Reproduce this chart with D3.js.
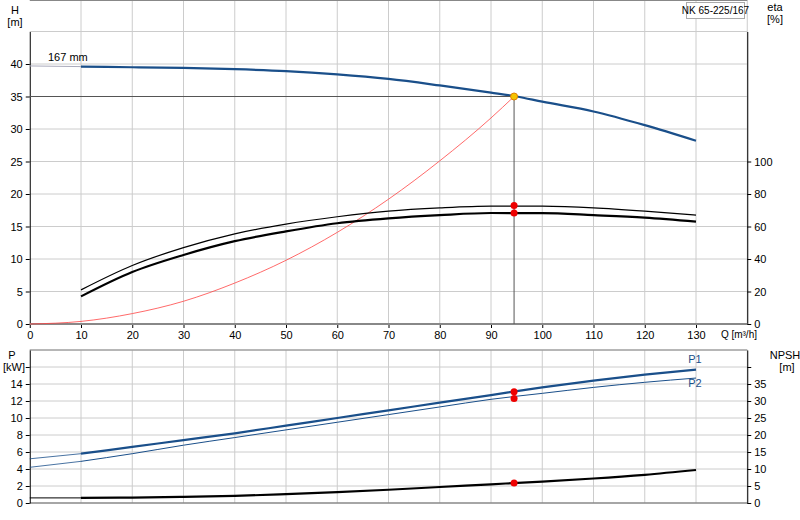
<!DOCTYPE html>
<html><head><meta charset="utf-8">
<script src="https://cdn.jsdelivr.net/npm/d3@7"></script>
<style>body{margin:0;background:#fff}text{font-family:Arial,"Liberation Sans",sans-serif;font-size:11px}</style>
</head><body><svg id="c" width="800" height="520"></svg>
<script>
// data
const qHead = [0,10,20,30,40,50,60,70,80,90,95,100,110,120,130];
const head  = [39.7,39.6,39.5,39.4,39.2,38.9,38.4,37.7,36.7,35.6,35,34.2,32.7,30.6,28.2];
const qEta = [10,20,30,40,50,60,70,80,90,100,110,120,130];
const eta1 = [17,32,42.5,51,57,62,65,67,68.3,68.2,67,65.5,63];
const eta2 = [21,36,47,55.5,61.5,66,69.5,71.5,72.6,72.5,71.5,69.5,67];
const qSys = [0,10,20,30,40,50,60,70,80,90,94.5];
const sysH = [0,0.4,1.6,3.5,6.3,9.8,14.1,19.2,25.1,31.7,35];
const qPow = [10,20,30,40,50,60,70,80,90,100,110,120,130];
const p1 = [5.8,6.6,7.4,8.2,9.1,10.0,10.9,11.8,12.7,13.6,14.4,15.1,15.7];
const p2 = [4.9,5.8,6.8,7.7,8.6,9.5,10.4,11.3,12.2,12.9,13.6,14.2,14.7];
const npsh = [1.5,1.6,1.8,2.1,2.6,3.2,3.9,4.7,5.5,6.3,7.2,8.3,9.7];
const duty = {q:94.5, h:35, eta1:73, eta2:68.3, p1:13.1, p2:12.3, npsh:5.9};
const qTicks = [0,10,20,30,40,50,60,70,80,90,100,110,120,130];

const svg = d3.select("#c");
const x = d3.scaleLinear().domain([0,140]).range([29.75,747.25]);
const yH = d3.scaleLinear().domain([0,45]).range([324,31.5]);
const yE = d3.scaleLinear().domain([0,180]).range([324,31.5]);
const yP = d3.scaleLinear().domain([0,18]).range([503,350]);
const yN = d3.scaleLinear().domain([0,45]).range([503,350]);
const blue = "#1a4f8a";

function grid(yS, vals, top, bot){
  svg.append("g").selectAll("line").data(vals).join("line")
    .attr("x1",x(0)).attr("x2",x(140)).attr("y1",d=>yS(d)).attr("y2",d=>yS(d))
    .attr("stroke","#ccc");
  svg.append("g").selectAll("line").data(d3.range(10,141,10)).join("line")
    .attr("x1",d=>x(d)).attr("x2",d=>x(d)).attr("y1",top).attr("y2",bot)
    .attr("stroke","#ccc");
}
grid(yH, d3.range(5,46,5), 0, 324);
grid(yP, d3.range(2,19,2), 350, 503);

// frames
svg.append("line").attr("x1",x(0)).attr("x2",x(140)).attr("y1",0.5).attr("y2",0.5).attr("stroke","#888");
svg.append("line").attr("x1",x(0)).attr("x2",x(140)).attr("y1",350).attr("y2",350).attr("stroke","#888");
svg.append("line").attr("x1",x(0)).attr("x2",x(140)).attr("y1",503).attr("y2",503).attr("stroke","#888").attr("stroke-width",1.5);

// axes
const ax = (g, a) => { svg.append("g").attr("transform",g).call(a).call(s=>s.selectAll("text").attr("fill","#000")); };
ax(`translate(${x(0)},0)`, d3.axisLeft(yH).tickValues(d3.range(0,41,5)).tickSize(4).tickSizeOuter(0));
ax(`translate(${x(140)},0)`, d3.axisRight(yE).tickValues(d3.range(0,101,20)).tickSize(4).tickSizeOuter(0));
ax(`translate(0,324)`, d3.axisBottom(x).tickValues(qTicks).tickSize(4).tickSizeOuter(0));
ax(`translate(${x(0)},0)`, d3.axisLeft(yP).tickValues(d3.range(0,17,2)).tickFormat(d=>d==16?"":d).tickSize(4).tickSizeOuter(0));
ax(`translate(${x(140)},0)`, d3.axisRight(yN).tickValues(d3.range(0,41,5)).tickFormat(d=>d==40?"":d).tickSize(4).tickSizeOuter(0));
svg.selectAll(".domain").attr("stroke","#000");
// grey x baseline on top plot
svg.append("line").attr("x1",x(0)).attr("x2",x(140)).attr("y1",324).attr("y2",324).attr("stroke","#888").attr("stroke-width",2);

// labels
const txt = (t,px,py,anchor="middle",fill="#000") => svg.append("text").attr("x",px).attr("y",py).attr("text-anchor",anchor).attr("fill",fill).text(t);
txt("H",15,14); txt("[m]",15,26);
txt("eta",775,11); txt("[%]",775,23);
txt("P",12,359); txt("[kW]",14,371);
txt("NPSH",785,359); txt("[m]",787,371);
txt("Q [m³/h]",757,338,"end").style("font-size","10px");
svg.append("rect").attr("x",686.5).attr("y",2.5).attr("width",58).attr("height",16).attr("fill","#fff").attr("stroke","#aaa");
txt("NK 65-225/167",715.5,14).style("font-size","10px");
txt("167 mm",48,61,"start");
txt("P1",695,363,"middle",blue);
txt("P2",695,387,"middle",blue);

// curves
const line = (qs, vs, yS) => d3.line().x((d,i)=>x(qs[i])).y(d=>yS(d)).curve(d3.curveMonotoneX)(vs);
const path = (d, col, w) => svg.append("path").attr("d",d).attr("fill","none").attr("stroke",col).attr("stroke-width",w);

path(line(qHead.slice(0,2), head.slice(0,2), yH), "#aab", 1);
path(line(qHead.slice(1), head.slice(1), yH), blue, 2.2);
path(line(qSys, sysH, yH), "#f44", 0.8);
path(line(qEta, eta2, yE), "#000", 1.2);
path(line(qEta, eta1, yE), "#000", 2.2);
// P1/P2 thin extensions to Q=0
path(line([0,10],[5.2,p1[0]], yP), blue, 0.8);
path(line([0,10],[4.2,p2[0]], yP), blue, 0.8);
path(line(qPow, p1, yP), blue, 2.2);
path(line(qPow, p2, yP), blue, 1);
path(line([0,10],[1.5,npsh[0]], yN), "#000", 1);
path(line(qPow, npsh, yN), "#000", 2.2);

// duty point lines
svg.append("line").attr("x1",x(0)).attr("x2",x(duty.q)).attr("y1",yH(duty.h)).attr("y2",yH(duty.h)).attr("stroke","#555");
svg.append("line").attr("x1",x(duty.q)).attr("x2",x(duty.q)).attr("y1",yH(duty.h)).attr("y2",324).attr("stroke","#555");

const dot = (px,py,fill) => svg.append("circle").attr("cx",px).attr("cy",py).attr("r",3.5).attr("fill",fill).attr("stroke",fill=="#f5c400"?"#e08000":"none");
dot(x(duty.q), yE(duty.eta1), "#e00");
dot(x(duty.q), yE(duty.eta2), "#e00");
dot(x(duty.q), yP(duty.p1), "#e00");
dot(x(duty.q), yP(duty.p2), "#e00");
dot(x(duty.q), yN(duty.npsh), "#e00");
dot(x(duty.q), yH(duty.h), "#f5c400");
</script></body></html>
